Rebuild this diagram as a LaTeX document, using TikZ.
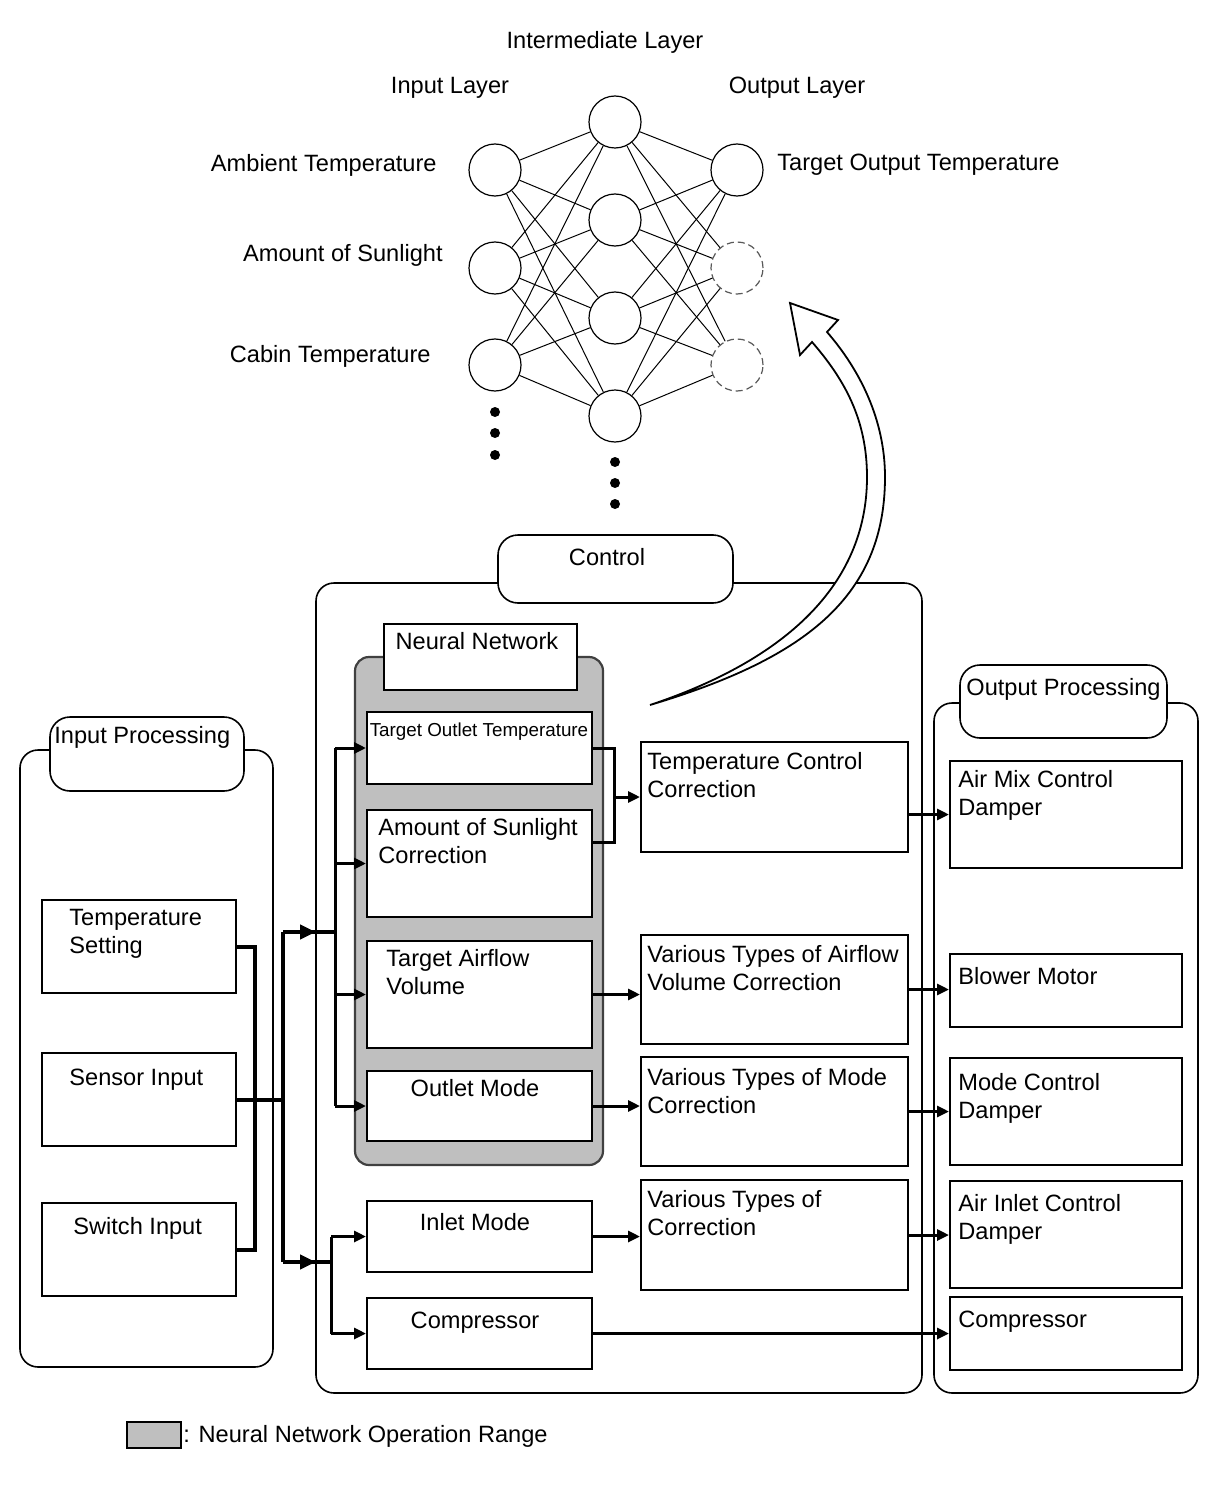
\documentclass[tikz,border=0pt]{standalone}
\usepackage{fontspec}
\setmainfont{Liberation Sans}
\usetikzlibrary{arrows.meta,fit}
\definecolor{nngray}{HTML}{BFBFBF}
\newcommand\mkbox[6][]{%
  \path (#3,#4) coordinate (#2-nw) (#5,#6) coordinate (#2-se);
  \node[box,#1,fit=(#2-nw)(#2-se)] (#2) {};}
\begin{document}
\begin{tikzpicture}[x=0.5pt,y=-0.5pt,
  box/.style={draw,line width=1pt,fill=white,inner sep=0pt},
  cont/.style={draw,line width=0.8pt,rounded corners=9pt,fill=white},
  tab/.style={draw,line width=0.8pt,rounded corners=10pt,fill=white},
  neuron/.style={circle,draw,line width=0.6pt,minimum size=26pt,inner sep=0pt,fill=white},
  dneuron/.style={neuron,dash pattern=on 3.5pt off 2pt,draw=black!65},
  link/.style={line width=0.5pt},
  ndot/.style={circle,fill=black,minimum size=5pt,inner sep=0pt},
  txt/.style={anchor=north west,inner sep=0pt,align=left,font=\fontsize{11.8}{14}\selectfont},
  ctxt/.style={txt,anchor=north,align=center},
  lbl/.style={inner sep=0pt,font=\fontsize{11.8}{14}\selectfont},
  wire/.style={line width=2pt},
  wire2/.style={line width=1.5pt},
  mainarr/.style={line width=2pt,-{Triangle[length=8pt,width=7pt]}},
  arr/.style={line width=1.5pt,-{Triangle[length=6pt,width=5.5pt]}}
]
\useasboundingbox (0,0) rectangle (1210,1498);

% ---------- Neural network diagram ----------
\node[lbl] (lint) at (605,42) {Intermediate Layer};
\node[lbl] (linp) at (450,88) {Input Layer};
\node[lbl] (lout) at (797,88) {Output Layer};

\node[neuron] (i1) at (495,170) {};
\node[neuron] (i2) at (495,268) {};
\node[neuron] (i3) at (495,365) {};
\node[neuron] (h1) at (615,122) {};
\node[neuron] (h2) at (615,220) {};
\node[neuron] (h3) at (615,318) {};
\node[neuron] (h4) at (615,416) {};
\node[neuron] (o1) at (737,170) {};
\node[dneuron] (o2) at (737,268) {};
\node[dneuron] (o3) at (737,365) {};
\foreach \a in {i1,i2,i3}{\foreach \b in {h1,h2,h3,h4}{\draw[link] (\a) -- (\b);}}
\foreach \a in {h1,h2,h3,h4}{\foreach \b in {o1,o2,o3}{\draw[link] (\a) -- (\b);}}
\node[ndot] (di1) at (495,412) {};
\node[ndot] (di2) at (495,433) {};
\node[ndot] (di3) at (495,455) {};
\node[ndot] (dh1) at (615,462) {};
\node[ndot] (dh2) at (615,483) {};
\node[ndot] (dh3) at (615,504) {};

\node[lbl,anchor=east] (lamb) at (437,165) {Ambient Temperature};
\node[lbl,anchor=east] (lsun) at (443,255) {Amount of Sunlight};
\node[lbl,anchor=east] (lcab) at (431,356) {Cabin Temperature};
\node[lbl,anchor=west] (ltgt) at (777,165) {Target Output Temperature};

% ---------- Containers ----------
\mkbox[cont]{inp}{20}{750}{273}{1367}
\mkbox[cont]{ctrl}{316}{583}{922}{1393}
\mkbox[cont]{outp}{934}{703}{1198}{1393}
\mkbox[tab]{inptab}{50}{717}{244}{791}
\mkbox[tab]{ctrltab}{498}{535}{733}{603}
\mkbox[tab]{outtab}{960}{665}{1167}{738}
\node[txt] (tinp) at (54,726) {Input Processing};
\node[ctxt] (tctrl) at (607,548) {Control};
\node[txt] (tout) at (966,678) {Output Processing};

\mkbox[draw=black!75,line width=1.1pt,rounded corners=7pt,fill=nngray]{nnbox}{355}{657}{603}{1165}
\mkbox{nntab}{384}{624}{577}{690}
\node[ctxt] (tnn) at (477,632) {Neural Network};

% ---------- Boxes ----------
\mkbox{tset}{42}{900}{236}{993}
\mkbox{sens}{42}{1053}{236}{1146}
\mkbox{swin}{42}{1203}{236}{1296}
\node[txt] (ttset) at (69,909) {Temperature\\Setting};
\node[txt] (tsens) at (69,1069) {Sensor Input};
\node[txt] (tswin) at (73,1217) {Switch Input};

\mkbox{tot}{367}{712}{592}{784}
\mkbox{asc}{367}{810}{592}{917}
\mkbox{taf}{367}{941}{592}{1048}
\mkbox{om}{367}{1071}{592}{1141}
\mkbox{im}{367}{1201}{592}{1272}
\mkbox{compa}{367}{1298}{592}{1369}
\node[ctxt,font=\fontsize{9.4}{11}\selectfont] (ttot) at (479,722) {Target Outlet Temperature};
\node[txt] (tasc) at (378,818) {Amount of Sunlight\\Correction};
\node[txt] (ttaf) at (386,949) {Target Airflow\\Volume};
\node[ctxt] (tom) at (475,1079) {Outlet Mode};
\node[ctxt] (tim) at (475,1213) {Inlet Mode};
\node[ctxt] (tcompa) at (475,1312) {Compressor};

\mkbox{tcc}{641}{742}{908}{852}
\mkbox{vac}{641}{935}{908}{1044}
\mkbox{vmc}{641}{1057}{908}{1166}
\mkbox{vc}{641}{1180}{908}{1290}
\node[txt] (ttcc) at (647,752) {Temperature Control\\Correction};
\node[txt] (tvac) at (647,945) {Various Types of Airflow\\Volume Correction};
\node[txt] (tvmc) at (647,1068) {Various Types of Mode\\Correction};
\node[txt] (tvc) at (647,1190) {Various Types of\\Correction};

\mkbox{amd}{950}{761}{1182}{868}
\mkbox{bm}{950}{954}{1182}{1027}
\mkbox{mcd}{950}{1058}{1182}{1165}
\mkbox{aicd}{950}{1181}{1182}{1288}
\mkbox{compb}{950}{1297}{1182}{1370}
\node[txt] (tamd) at (958,770) {Air Mix Control\\Damper};
\node[txt] (tbm) at (958,967) {Blower Motor};
\node[txt] (tmcd) at (958,1073) {Mode Control\\Damper};
\node[txt] (taicd) at (958,1194) {Air Inlet Control\\Damper};
\node[txt] (tcompb) at (958,1311) {Compressor};

% ---------- Connectors: input side ----------
\coordinate (busA) at (255,0);
\coordinate (busB) at (283,0);
\coordinate (m1) at (283,932);
\coordinate (m2) at (283,1262);
\coordinate (a1) at (316,932);
\coordinate (a2) at (316,1262);
\coordinate (n1) at (335,932);
\coordinate (n2) at (331,1262);
\draw[wire] (tset.east) -| (busA |- swin.east) -- (swin.east);
\draw[wire] (sens.east) -- (busB |- sens.east);
\draw[wire] (m1) -- (m2);
\draw[wire] (m1) -- (n1);
\draw[wire] (m2) -- (n2);
\draw[mainarr] (m1) -- (a1);
\draw[mainarr] (m2) -- (a2);

% bar into neural network
\coordinate (barA) at (335,0);
\draw[wire2] (barA |- tot.west) -- (barA |- om.west);
\foreach \t in {tot,asc,taf,om}{\draw[arr] (barA |- \t.west) -- (\t.west);}
% bar into inlet / compressor
\coordinate (barB) at (331,0);
\draw[wire2] (barB |- im.west) -- (barB |- compa.west);
\foreach \t in {im,compa}{\draw[arr] (barB |- \t.west) -- (\t.west);}

% bracket from target outlet temp + sunlight correction
\coordinate (brk) at (614,0);
\coordinate (brkb) at (592,842);
\draw[wire2] (tot.east) -| (brk |- brkb) -- (brkb);
\draw[arr] (brk |- tcc.west) -- (tcc.west);
\draw[arr] (taf.east) -- (taf.east -| vac.west);
\draw[arr] (om.east) -- (om.east -| vmc.west);
\draw[arr] (im.east) -- (im.east -| vc.west);
\draw[arr] (compa.east) -- (compa.east -| compb.west);

% middle -> output
\draw[arr] (amd.west -| tcc.east) -- (amd.west);
\draw[arr] (vac.east) -- (vac.east -| bm.west);
\draw[arr] (vmc.east) -- (vmc.east -| mcd.west);
\draw[arr] (vc.east) -- (vc.east -| aicd.west);

% ---------- Hollow curved arrow ----------
\draw[line width=0.9pt,fill=white,line join=miter]
  (650,705) .. controls (800,660) and (885,600) .. (885,477)
  .. controls (885,420) and (860,370) .. (827,332)
  -- (838,320) -- (790,303) -- (800,355) -- (812,342)
  .. controls (845,380) and (867,420) .. (867,477)
  .. controls (867,585) and (785,660) .. (650,705) -- cycle;

% ---------- Legend ----------
\mkbox[fill=nngray,line width=1pt]{leg}{127}{1422}{181}{1448}
\node[lbl,anchor=west] (tleg) at (183,1436) {: Neural Network Operation Range};
\end{tikzpicture}
\end{document}
